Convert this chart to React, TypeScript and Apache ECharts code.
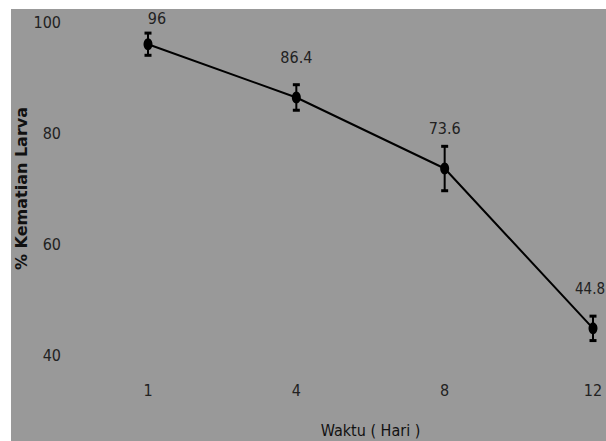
import React, { useEffect, useRef } from "react";
import * as echarts from "echarts";

const categories = ["1", "4", "8", "12"];
const values = [96, 86.4, 73.6, 44.8];
const errors = [2.0, 2.3, 4.0, 2.2];
const yTicks = { min: 40, max: 100, interval: 20 };

const FONT = "'Liberation Sans Narrow', 'DejaVu Sans Condensed', 'Liberation Sans', sans-serif";

export default function App() {
  const ref = useRef<HTMLDivElement>(null);
  useEffect(() => {
    if (!ref.current) return;
    const chart = echarts.init(ref.current, null, { renderer: "svg" });
    const errData = values.map((v, i) => [i, v - errors[i], v + errors[i]]);
    const last = values.length - 1;
    chart.setOption({
      animation: false,
      backgroundColor: "#999999",
      grid: { left: 137, right: 13, top: 13, bottom: 86, outerBoundsMode: "none", containLabel: false },
      xAxis: {
        type: "category",
        data: categories,
        boundaryGap: false,
        axisLine: { show: false },
        axisTick: { show: false },
        splitLine: { show: false },
        axisLabel: { color: "#222", fontFamily: FONT, fontSize: 16, margin: 27 },
        name: "Waktu ( Hari )",
        nameLocation: "middle",
        nameGap: 67,
        nameMoveOverlap: false,
        nameTextStyle: { color: "#111", fontFamily: FONT, fontSize: 16, verticalAlign: "top" },
      },
      yAxis: {
        type: "value",
        min: yTicks.min,
        max: yTicks.max,
        interval: yTicks.interval,
        axisLine: { show: false },
        axisTick: { show: false },
        splitLine: { show: false },
        axisLabel: { color: "#222", fontFamily: FONT, fontSize: 16, margin: 87 },
        name: "% Kematian Larva",
        nameLocation: "middle",
        nameGap: 119,
        nameRotate: 90,
        nameMoveOverlap: false,
        nameTextStyle: { color: "#111", fontFamily: "'DejaVu Sans', sans-serif", fontSize: 16, lineHeight: 16, fontWeight: "bold" },
      },
      series: [
        {
          type: "line",
          data: values.map((v, i) =>
            i === 0
              ? { value: v, label: { distance: 12, offset: [9, 0] } }
              : i === last
              ? { value: v, label: { offset: [-3, 0], fontSize: 15 } }
              : { value: v }
          ),
          lineStyle: { color: "#000", width: 2 },
          itemStyle: { color: "#000" },
          symbol: "circle",
          symbolSize: [9, 12],
          label: {
            show: true,
            position: "top",
            distance: 26,
            color: "#222",
            fontFamily: FONT,
            fontSize: 16,
          },
          z: 3,
        },
        {
          type: "custom",
          data: errData,
          encode: { x: 0, y: [1, 2] },
          z: 4,
          renderItem: (params: any, api: any) => {
            const lo = api.coord([api.value(0), api.value(1)]);
            const hi = api.coord([api.value(0), api.value(2)]);
            const w = 3.5;
            return {
              type: "group",
              children: [
                { type: "line", shape: { x1: lo[0], y1: lo[1], x2: hi[0], y2: hi[1] }, style: { stroke: "#000", lineWidth: 2 } },
                { type: "line", shape: { x1: lo[0] - w, y1: lo[1], x2: lo[0] + w, y2: lo[1] }, style: { stroke: "#000", lineWidth: 3 } },
                { type: "line", shape: { x1: hi[0] - w, y1: hi[1], x2: hi[0] + w, y2: hi[1] }, style: { stroke: "#000", lineWidth: 3 } },
              ],
            };
          },
        },
      ],
    });
    return () => chart.dispose();
  }, []);
  return (
    <div style={{ position: "fixed", left: 0, top: 0, width: 606, height: 441, background: "#fff" }}>
      <div ref={ref} style={{ position: "absolute", left: 11, top: 9, width: 595, height: 432 }} />
    </div>
  );
}
